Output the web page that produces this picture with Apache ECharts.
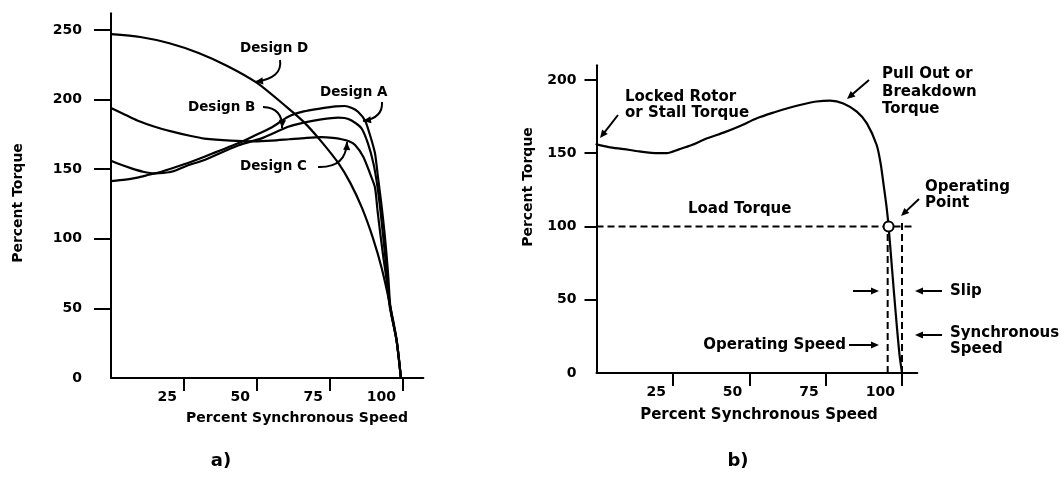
<!DOCTYPE html>
<html>
<head>
<meta charset="utf-8">
<script src="https://cdn.jsdelivr.net/npm/echarts@6/dist/echarts.min.js"></script>
<style>
  html, body { margin: 0; padding: 0; background: #fff; }
  #main { width: 1060px; height: 484px; }
</style>
</head>
<body>
<div id="main"></div>
<script>
// ---- Panel a): speed–torque curves of NEMA designs A, B, C and D ----
const speedA  = [0, 5, 9, 13, 17, 25, 32, 43.5, 50, 55, 60.7, 66, 72, 77, 80, 82.5, 84.6, 87, 88.7, 90.4, 91.4, 92.6, 93.6, 94.4, 95, 95.7, 97.8, 99.3];
const torqueA = [141.5, 142.5, 144, 146, 148, 153.5, 159, 168.6, 175, 180, 187.7, 191.5, 193.7, 195.2, 195.4, 194, 191.3, 185, 174.6, 161.6, 145, 125, 106, 88, 72, 51, 27, 0];

const speedB  = [0, 3, 7, 11, 15, 18, 21, 26, 32, 43.5, 52, 60.7, 66, 72, 77.8, 80, 82.4, 85.8, 88, 89.9, 91.3, 92.3, 93, 93.9, 94.6, 95.6, 97.8, 99.3];
const torqueB = [156, 153.5, 150.6, 148.2, 147, 147.3, 148.3, 152.5, 156.6, 167, 172.5, 180.5, 183.5, 185.8, 187, 186.8, 185, 179.4, 168.6, 154, 137, 120, 106, 88, 72, 51, 27, 0];

const speedC  = [0, 5, 9, 15, 21, 27, 32, 41, 49, 55, 61, 67, 72, 76, 79, 81.5, 83.6, 86.4, 88.7, 90.4, 91.3, 92.1, 93.2, 94.3, 95.5, 97.8, 99.3];
const torqueC = [194, 189, 185, 180.5, 177, 174, 172, 170.5, 170, 170.5, 171.5, 172.5, 173, 172.5, 171.5, 170, 167.4, 159, 147, 137, 120, 106, 88, 72, 51, 27, 0];

const speedD  = [0, 10, 20, 30, 40, 50, 60, 66, 72, 78, 82, 86, 89.8, 92.7, 95.5, 97.8, 99.3];
const torqueD = [247, 245, 240.5, 233.5, 224, 212, 195, 184, 170, 154, 140, 122, 100, 79, 53, 28, 0];

// ---- Panel b): one typical curve with the load line ----
const speedTypical  = [0, 4, 9, 14, 20, 23, 27, 31, 36, 42, 47, 52.5, 58, 63.4, 68, 72, 76.5, 80.8, 85.2, 88.5, 91.7, 93, 94, 94.9, 95.6, 96.5, 97.4, 98.3, 99.2, 100];
const torqueTypical = [156, 154.2, 152.8, 151.2, 150, 150, 152.6, 155.4, 160, 164.4, 168.6, 173.9, 177.8, 181.2, 183.6, 185.3, 185.9, 184, 178.4, 170.4, 155.6, 143, 128, 114, 100, 77, 54, 32, 12, 0];

const loadTorque = 100;          // % torque drawn by the load
const operatingSpeed = 95.6;     // % synchronous speed at the operating point
const synchronousSpeed = 100;

// tick labels
const yTicksA = [0, 50, 100, 150, 200, 250];
const yTicksB = [0, 50, 100, 150, 200];
const xTicks  = [25, 50, 75, 100];

const pairs = (xs, ys) => xs.map((x, i) => [x, ys[i]]);

const INK = '#000';
const FONT = '"DejaVu Sans", "Liberation Sans", sans-serif';

function xAxisFor(gridIndex, max) {
  return {
    type: 'value', gridIndex, min: 0, max, interval: 25,
    axisLine: { show: true, onZero: false, lineStyle: { color: INK, width: 2 } },
    axisTick: { show: true, length: 13, inside: false, customValues: xTicks, lineStyle: { color: INK, width: 2 } },
    axisLabel: {
      customValues: xTicks, margin: 12, align: 'right', padding: [0, 7, 0, 0],
      color: INK, fontFamily: FONT, fontWeight: 'bold', fontSize: 14
    },
    splitLine: { show: false }
  };
}

function yAxisFor(gridIndex, max, labels, tickLen, margin) {
  return {
    type: 'value', gridIndex, min: 0, max, interval: 50,
    axisLine: { show: true, onZero: false, lineStyle: { color: INK, width: 2 } },
    axisTick: { show: true, length: tickLen, customValues: labels.filter(v => v > 0), lineStyle: { color: INK, width: 2 } },
    axisLabel: {
      customValues: labels, margin,
      color: INK, fontFamily: FONT, fontWeight: 'bold', fontSize: 14
    },
    splitLine: { show: false }
  };
}

function curve(name, xs, ys, axis) {
  return {
    name, type: 'line', xAxisIndex: axis, yAxisIndex: axis,
    data: pairs(xs, ys), showSymbol: false, smooth: 0.25,
    lineStyle: { color: INK, width: 2.2, join: 'round', cap: 'round' }, silent: true
  };
}

function dashed(data) {
  return {
    type: 'line', xAxisIndex: 1, yAxisIndex: 1, data, showSymbol: false,
    lineStyle: { color: INK, width: 2, type: [7, 4] }, silent: true
  };
}

// ---- annotation helpers (pixel space) ----
function text(str, x, y, size, align, rotation) {
  return {
    type: 'text', x, y, rotation: rotation || 0, silent: true,
    style: {
      text: str, fill: INK, font: 'bold ' + size + 'px ' + FONT,
      textAlign: align || 'left', textVerticalAlign: 'middle'
    }
  };
}

function head(tipX, tipY, fromX, fromY) {
  const a = Math.atan2(tipY - fromY, tipX - fromX);
  const L = 8, W = 3.6;
  const bx = tipX - L * Math.cos(a), by = tipY - L * Math.sin(a);
  return {
    type: 'polygon', silent: true,
    shape: { points: [[tipX, tipY], [bx + W * Math.sin(a), by - W * Math.cos(a)], [bx - W * Math.sin(a), by + W * Math.cos(a)]] },
    style: { fill: INK }
  };
}

function arrow(x1, y1, x2, y2) {
  const a = Math.atan2(y2 - y1, x2 - x1);
  return [
    { type: 'line', silent: true, shape: { x1, y1, x2: x2 - 6 * Math.cos(a), y2: y2 - 6 * Math.sin(a) }, style: { stroke: INK, lineWidth: 2 } },
    head(x2, y2, x1, y1)
  ];
}

function curvedArrow(x1, y1, cx, cy, x2, y2) {
  return [
    { type: 'bezierCurve', silent: true, shape: { x1, y1, x2, y2, cpx1: cx, cpy1: cy }, style: { stroke: INK, lineWidth: 2, fill: null } },
    head(x2, y2, cx, cy)
  ];
}

const graphics = [
  // panel a) labels
  text('Percent Torque', 18, 203, 14, 'center', Math.PI / 2),
  text('Percent Synchronous Speed', 297, 418, 14, 'center'),
  text('Design D', 240, 48, 13.5),
  ...curvedArrow(280, 60, 283, 78, 255, 82),
  text('Design A', 320, 92, 13.5),
  ...curvedArrow(382, 102, 383, 118, 363, 121),
  text('Design B', 188, 107, 13.5),
  ...curvedArrow(263, 107, 283, 108, 282, 128),
  text('Design C', 240, 166, 13.5),
  ...curvedArrow(318, 167, 346, 168, 347, 142),
  text('a)', 221, 461, 18, 'center'),

  // panel b) labels
  text('Percent Torque', 528, 187, 14, 'center', Math.PI / 2),
  text('Percent Synchronous Speed', 759, 415, 15, 'center'),
  text('Locked Rotor', 625, 97, 15),
  text('or Stall Torque', 625, 113, 15),
  ...arrow(618, 115, 600, 138),
  text('Pull Out or', 882, 74, 15),
  text('Breakdown', 882, 92, 15),
  text('Torque', 882, 109, 15),
  ...arrow(869, 80, 847, 99),
  text('Operating', 925, 187, 15),
  text('Point', 925, 203, 15),
  ...arrow(919, 199, 901, 216),
  text('Load Torque', 688, 209, 15),
  text('Slip', 950, 291, 15),
  ...arrow(853, 291, 879, 291),
  ...arrow(942, 291, 915, 291),
  text('Synchronous', 950, 333, 15),
  text('Speed', 950, 349, 15),
  ...arrow(942, 335, 915, 335),
  text('Operating Speed', 846, 345, 15, 'right'),
  ...arrow(849, 345, 879, 345),
  text('b)', 738, 461, 18, 'center')
];

const chart = echarts.init(document.getElementById('main'), null, { renderer: 'canvas' });

chart.setOption({
  backgroundColor: '#fff',
  animation: false,
  grid: [
    { left: 111, top: 13.3, width: 312.4, height: 364.7, outerBoundsMode: 'none' },
    { left: 596.5, top: 65.3, width: 320.8, height: 307.7, outerBoundsMode: 'none' }
  ],
  xAxis: [xAxisFor(0, 107), xAxisFor(1, 105)],
  yAxis: [yAxisFor(0, 262, yTicksA, 17, 29), yAxisFor(1, 210, yTicksB, 12, 20)],
  series: [
    curve('Design A', speedA, torqueA, 0),
    curve('Design B', speedB, torqueB, 0),
    curve('Design C', speedC, torqueC, 0),
    curve('Design D', speedD, torqueD, 0),
    curve('Torque', speedTypical, torqueTypical, 1),
    dashed([[0, loadTorque], [104, loadTorque]]),
    dashed([[operatingSpeed - 0.3, 0], [operatingSpeed - 0.3, loadTorque]]),
    dashed([[synchronousSpeed, 0], [synchronousSpeed, loadTorque + 2.5]]),
    {
      name: 'Operating Point', type: 'scatter', xAxisIndex: 1, yAxisIndex: 1,
      data: [[operatingSpeed, loadTorque]], symbol: 'circle', symbolSize: 10, z: 5,
      itemStyle: { color: '#fff', borderColor: INK, borderWidth: 2, opacity: 1 }, silent: true
    }
  ],
  graphic: graphics
});
</script>
</body>
</html>
